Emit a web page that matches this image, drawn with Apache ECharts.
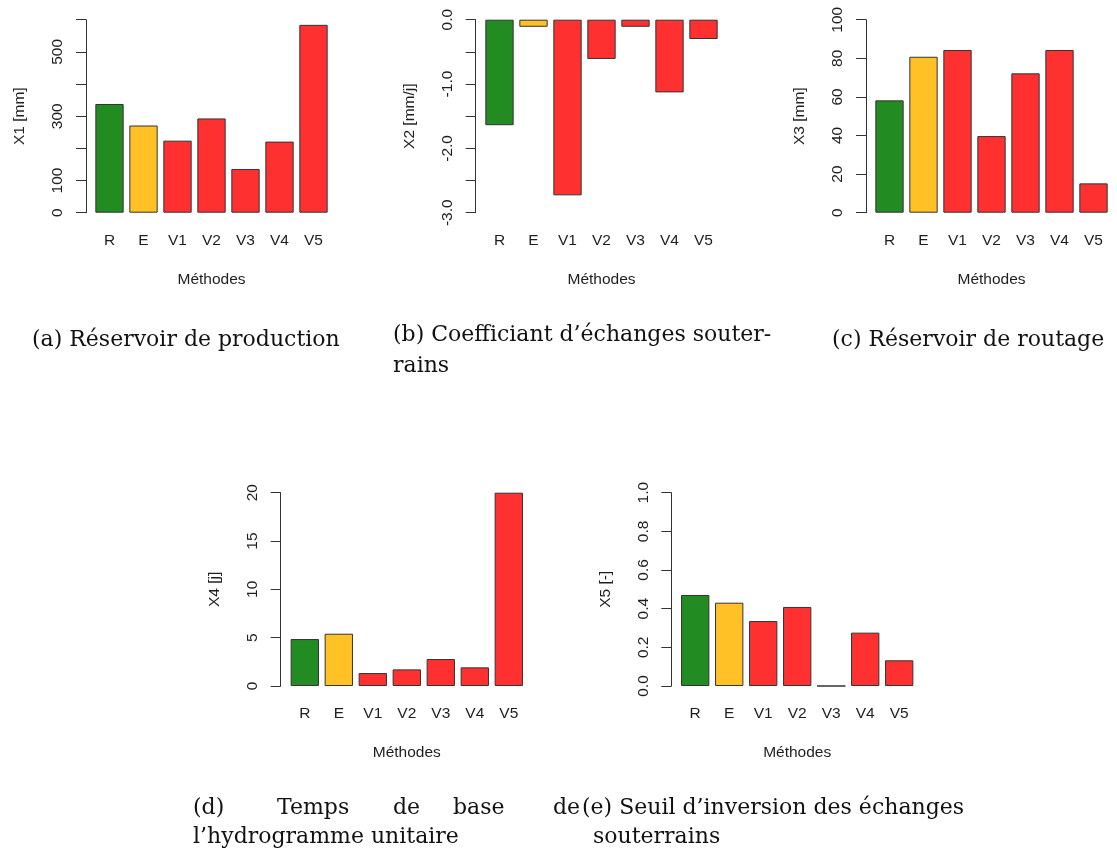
<!DOCTYPE html>
<html>
<head>
<meta charset="utf-8">
<script src="https://cdn.jsdelivr.net/npm/echarts@6/dist/echarts.min.js"></script>
<style>
html,body{margin:0;padding:0;background:#fff;}
#chart{width:1117px;height:853px;}
</style>
</head>
<body>
<div id="chart"></div>
<script>
// ---------- DATA ----------
const categories = ['R', 'E', 'V1', 'V2', 'V3', 'V4', 'V5'];
const categoryColors = ['#228B22', '#FFC125', '#FF3030', '#FF3030', '#FF3030', '#FF3030', '#FF3030'];

const x1Values = [338, 271, 224, 293, 136, 221, 584];
const x2Values = [-1.64, -0.11, -2.73, -0.61, -0.11, -1.13, -0.30];
const x3Values = [58.2, 80.8, 84.3, 39.7, 72.2, 84.3, 15.2];
const x4Values = [4.86, 5.41, 1.34, 1.72, 2.79, 1.93, 20.0];
const x5Values = [0.471, 0.431, 0.336, 0.409, 0.0, 0.276, 0.133];

const x1Ticks = [0, 100, 200, 300, 400, 500, 600];
const x1TickLabels = ['0', '100', '', '300', '', '500', ''];
const x2Ticks = [-3.0, -2.5, -2.0, -1.5, -1.0, -0.5, 0.0];
const x2TickLabels = ['-3.0', '', '-2.0', '', '-1.0', '', '0.0'];
const x3Ticks = [0, 20, 40, 60, 80, 100];
const x3TickLabels = ['0', '20', '40', '60', '80', '100'];
const x4Ticks = [0, 5, 10, 15, 20];
const x4TickLabels = ['0', '5', '10', '15', '20'];
const x5Ticks = [0.0, 0.2, 0.4, 0.6, 0.8, 1.0];
const x5TickLabels = ['0.0', '0.2', '0.4', '0.6', '0.8', '1.0'];

const yNames = ['X1 [mm]', 'X2 [mm/j]', 'X3 [mm]', 'X4 [j]', 'X5 [-]'];
const xName = 'Méthodes';

const captionA = '(a) Réservoir de production';
const captionB1 = '(b) Coefficiant d\u2019échanges souter-';
const captionB2 = 'rains';
const captionC = '(c) Réservoir de routage';
const captionD1Words = ['(d)', 'Temps', 'de', 'base', 'de'];
const captionD2 = 'l\u2019hydrogramme unitaire';
const captionE1 = '(e) Seuil d\u2019inversion des échanges';
const captionE2 = 'souterrains';

// ---------- LAYOUT ----------
const panelValues = [x1Values, x2Values, x3Values, x4Values, x5Values];
const panelTicks = [x1Ticks, x2Ticks, x3Ticks, x4Ticks, x5Ticks];
const panelTickLabels = [x1TickLabels, x2TickLabels, x3TickLabels, x4TickLabels, x5TickLabels];
// axis line x, grid left, grid top, grid bottom
const layout = [
  {axisX: 86.0,  left: 92.5,  top: 19.7,  bottom: 212.7},
  {axisX: 475.7, left: 482.5, top: 19.7,  bottom: 212.7},
  {axisX: 866.0, left: 872.5, top: 19.7,  bottom: 212.7},
  {axisX: 280.7, left: 287.8, top: 492.7, bottom: 686.0},
  {axisX: 671.3, left: 678.2, top: 492.7, bottom: 686.0}
];
const gridWidth = 238;
const sansFont = '"Liberation Sans", Arial, sans-serif';
const serifFont = '"DejaVu Serif", serif';
const fs = 15.5;
const textColor = '#1e1e1e';
const axisColor = '#333';

const grids = [], xAxes = [], yAxes = [], series = [];
layout.forEach((L, i) => {
  const ticks = panelTicks[i];
  const labels = panelTickLabels[i];
  grids.push({
    left: L.left, top: L.top, width: gridWidth, height: L.bottom - L.top,
    containLabel: false, outerBoundsMode: 'none'
  });
  xAxes.push({
    gridIndex: i, type: 'category', data: categories, position: 'bottom',
    axisLine: {show: false, onZero: false}, axisTick: {show: false},
    axisLabel: {interval: 0, margin: 20, fontSize: fs, fontFamily: sansFont, color: textColor},
    splitLine: {show: false},
    name: xName, nameLocation: 'middle', nameGap: 59,
    nameTextStyle: {fontSize: fs, fontFamily: sansFont, color: textColor}
  });
  yAxes.push({
    gridIndex: i, type: 'value', position: 'left', offset: L.left - L.axisX,
    min: ticks[0], max: ticks[ticks.length - 1], interval: ticks[1] - ticks[0],
    axisLine: {show: true, lineStyle: {color: axisColor, width: 1}},
    axisTick: {show: true, length: 10, lineStyle: {color: axisColor, width: 1}},
    axisLabel: {
      rotate: 90, margin: 20, fontSize: fs, fontFamily: sansFont, color: textColor,
      showMinLabel: true, showMaxLabel: true,
      formatter: function (v) {
        for (let k = 0; k < ticks.length; k++) {
          if (Math.abs(ticks[k] - v) < 1e-9) return labels[k];
        }
        return '';
      }
    },
    splitLine: {show: false},
    name: yNames[i], nameLocation: 'middle', nameGap: 58,
    nameTextStyle: {fontSize: fs, fontFamily: sansFont, color: textColor}
  });
  series.push({
    type: 'bar', xAxisIndex: i, yAxisIndex: i, barWidth: '83.3%',
    data: panelValues[i].map((v, k) => ({
      value: v,
      itemStyle: {color: categoryColors[k], borderColor: '#333', borderWidth: 1}
    })),
    silent: true
  });
});

function cap(text, x, baseline) {
  return {
    type: 'text', x: x, y: baseline - 6.6,
    style: {text: text, font: '22px ' + serifFont, fill: '#111', textAlign: 'left', textVerticalAlign: 'middle'}
  };
}
const dWordX = [193, 277, 393, 453, 553];
const graphics = [
  cap(captionA, 32, 347),
  cap(captionB1, 393, 341.5),
  cap(captionB2, 393, 373.3),
  cap(captionC, 832, 347),
  cap(captionD2, 193, 844),
  cap(captionE1, 582, 815),
  cap(captionE2, 593, 844)
];
captionD1Words.forEach((w, k) => graphics.push(cap(w, dWordX[k], 815)));

const chart = echarts.init(document.getElementById('chart'), null, {renderer: 'canvas'});
chart.setOption({
  animation: false,
  backgroundColor: '#fff',
  grid: grids, xAxis: xAxes, yAxis: yAxes, series: series,
  graphic: graphics
});
</script>
</body>
</html>
